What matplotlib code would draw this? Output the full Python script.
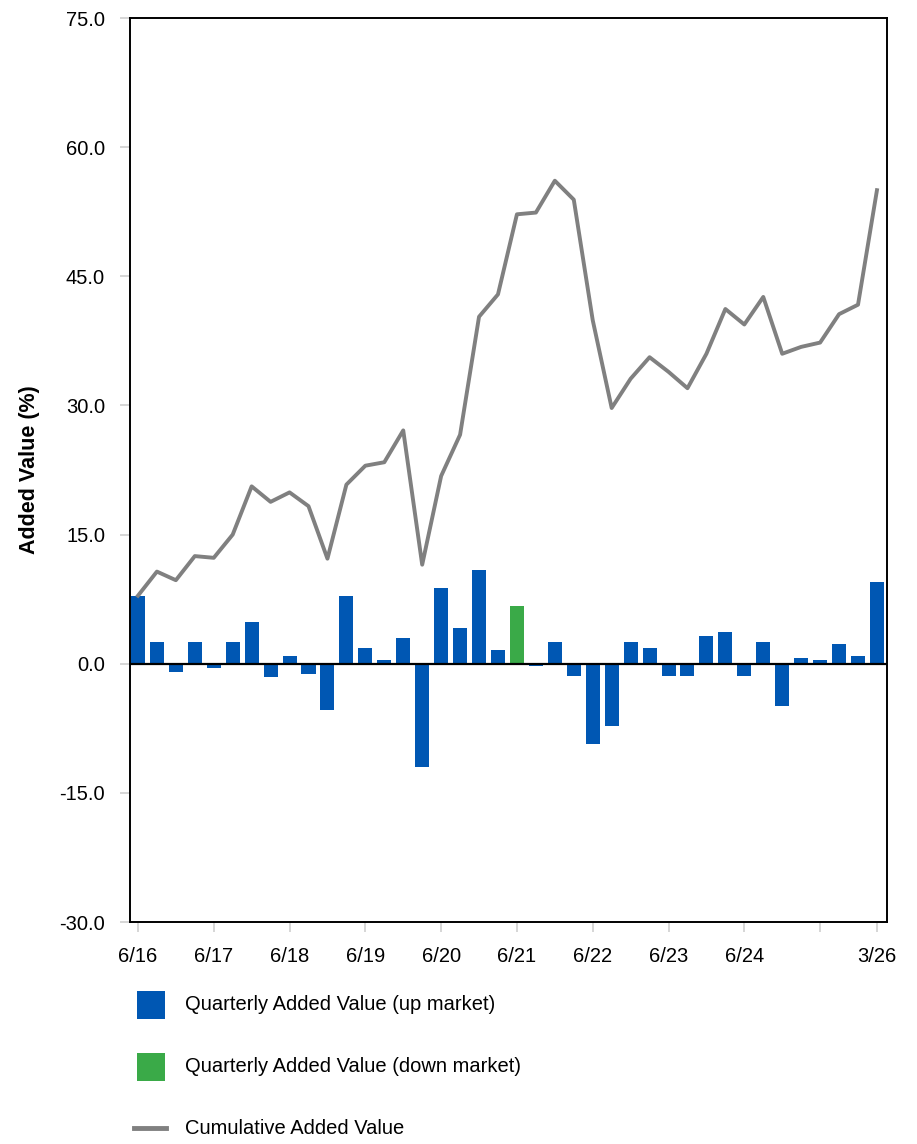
import matplotlib
matplotlib.use("Agg")
import matplotlib.pyplot as plt
from matplotlib.patches import Rectangle
from matplotlib.lines import Line2D
import numpy as np

# Quarterly periods, 6/16 .. 3/26
QUARTERS = [
    "6/16", "9/16", "12/16", "3/17", "6/17", "9/17", "12/17", "3/18",
    "6/18", "9/18", "12/18", "3/19", "6/19", "9/19", "12/19", "3/20",
    "6/20", "9/20", "12/20", "3/21", "6/21", "9/21", "12/21", "3/22",
    "6/22", "9/22", "12/22", "3/23", "6/23", "9/23", "12/23", "3/24",
    "6/24", "9/24", "12/24", "3/25", "6/25", "9/25", "12/25", "3/26",
]

QUARTERLY_VALUE = [
    7.9, 2.55, -0.95, 2.55, -0.45, 2.55, 4.87, -1.6,
    0.93, -1.15, -5.35, 7.9, 1.86, 0.46, 3.0, -12.05,
    8.8, 4.18, 10.9, 1.62, 6.73, -0.23, 2.55, -1.4,
    -9.28, -7.2, 2.55, 1.86, -1.4, -1.4, 3.25, 3.71,
    -1.4, 2.55, -4.87, 0.7, 0.46, 2.32, 0.93, 9.51,
]

# True where the quarter was a down market
DOWN_MARKET = [q == "6/21" for q in QUARTERS]

CUMULATIVE_VALUE = [
    7.9, 10.7, 9.7, 12.5, 12.3, 15.0, 20.6, 18.8,
    19.9, 18.3, 12.2, 20.8, 23.0, 23.4, 27.1, 11.5,
    21.8, 26.6, 40.3, 42.9, 52.2, 52.4, 56.1, 53.9,
    39.9, 29.7, 33.1, 35.6, 33.9, 32.0, 36.0, 41.2,
    39.4, 42.6, 36.0, 36.8, 37.3, 40.6, 41.7, 55.0,
]

TICK_POSITIONS = [0, 4, 8, 12, 16, 20, 24, 28, 32, 36, 39]
TICK_LABELS = ["6/16", "6/17", "6/18", "6/19", "6/20", "6/21",
               "6/22", "6/23", "6/24", "", "3/26"]

LEGEND_LABELS = [
    "Quarterly Added Value (up market)",
    "Quarterly Added Value (down market)",
    "Cumulative Added Value",
]

UP_COLOR = "#0057b3"
DOWN_COLOR = "#3aaa48"
LINE_COLOR = "#808080"

plt.rcParams["font.family"] = ["Liberation Sans", "DejaVu Sans"]

W, H = 917, 1144
fig = plt.figure(figsize=(W / 100, H / 100), dpi=100)
ax = fig.add_axes([130 / W, 1 - 922 / H, 757 / W, 904 / H])

x = np.arange(len(QUARTERS))
colors = [DOWN_COLOR if d else UP_COLOR for d in DOWN_MARKET]
ax.bar(x, QUARTERLY_VALUE, width=0.74, color=colors, zorder=2)
ax.plot(x, CUMULATIVE_VALUE, color=LINE_COLOR, linewidth=2.8, zorder=3)
ax.axhline(0, color="black", linewidth=1.6, zorder=4)

ax.set_xlim(-0.42, 39.53)
ax.set_ylim(-30, 75)
yticks = np.arange(-30, 76, 15)
ax.set_yticks(yticks)
ax.set_yticklabels([f"{v:.1f}" for v in yticks], fontsize=14.5)
ax.set_xticks(TICK_POSITIONS)
ax.set_xticklabels(TICK_LABELS, fontsize=14.5)
ax.tick_params(axis="both", direction="out", length=7, width=1.2, color="#d0d0d0")
ax.tick_params(axis="y", pad=11)
ax.tick_params(axis="x", pad=11)

for side in ["left", "right", "top", "bottom"]:
    ax.spines[side].set_color("black")
    ax.spines[side].set_linewidth(1.4)

fig.text(30 / W, 1 - 470 / H, "Added Value (%)", rotation=90, fontsize=15.5,
         fontweight="bold", ha="center", va="center")

# legend below the plot
legend_rows = [1005, 1067, 1128]
for label, yc, kind in zip(LEGEND_LABELS, legend_rows, ["up", "down", "line"]):
    yf = 1 - yc / H
    if kind == "line":
        fig.add_artist(Line2D([134 / W, 166 / W], [yf, yf], color=LINE_COLOR,
                              linewidth=3.5, transform=fig.transFigure))
    else:
        fig.add_artist(Rectangle((137 / W, yf - 14 / H), 28 / W, 28 / H,
                                 facecolor=UP_COLOR if kind == "up" else DOWN_COLOR,
                                 edgecolor="none", transform=fig.transFigure))
    fig.text(185 / W, yf, label, fontsize=14.5, ha="left", va="center")

fig.savefig("out.png", dpi=100)
